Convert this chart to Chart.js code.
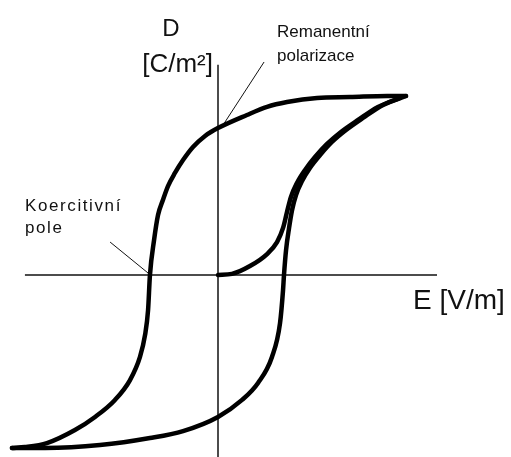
<!DOCTYPE html>
<html>
<head>
<meta charset="utf-8">
<title>Hysterezní smyčka</title>
<script src="https://cdn.jsdelivr.net/npm/chart.js@4.4.1/dist/chart.umd.min.js"></script>
<style>
  html, body { margin: 0; padding: 0; background: #fff; }
  #wrap { position: relative; width: 511px; height: 457px; }
</style>
</head>
<body>
<div id="wrap"><canvas id="loop"></canvas></div>
<script>
// E and D in units of the saturation point (tip of the loop = 1, 1)

// descending branch: saturation -> remanence -> coercive field -> negative saturation
const descE = [1.000, 0.899, 0.702, 0.527, 0.367, 0.261, 0.154, 0.000, -0.069, -0.133, -0.186, -0.229, -0.266, -0.293, -0.319, -0.340, -0.362, -0.372, -0.388, -0.415, -0.468, -0.548, -0.654, -0.761, -0.910, -1.027, -1.096]
const descD = [1.000, 1.000, 0.994, 0.989, 0.966, 0.939, 0.894, 0.821, 0.777, 0.715, 0.642, 0.570, 0.497, 0.419, 0.335, 0.196, 0.000, -0.196, -0.335, -0.458, -0.587, -0.698, -0.793, -0.866, -0.939, -0.961, -0.966]

// ascending branch: negative saturation -> back up to saturation
const ascE = [-1.096, -0.920, -0.628, -0.362, -0.186, 0.000, 0.128, 0.213, 0.287, 0.330, 0.346, 0.351, 0.362, 0.378, 0.394, 0.415, 0.447, 0.489, 0.543, 0.606, 0.681, 0.771, 0.878, 1.000]
const ascD = [-0.966, -0.966, -0.950, -0.911, -0.872, -0.793, -0.698, -0.603, -0.458, -0.268, -0.084, 0.000, 0.140, 0.263, 0.363, 0.447, 0.525, 0.598, 0.670, 0.743, 0.810, 0.877, 0.950, 1.000]

// first (virgin) curve from the origin
const initE = [0.000, 0.074, 0.170, 0.261, 0.314, 0.346, 0.367, 0.388, 0.420, 0.463, 0.516, 0.580, 0.654, 0.745, 0.851, 0.968]
const initD = [0.000, 0.006, 0.050, 0.117, 0.184, 0.263, 0.352, 0.436, 0.514, 0.587, 0.659, 0.732, 0.799, 0.866, 0.939, 0.989]

// axes
const axisE = [-1.027, 1.165]
const axisD = [-1.02, 1.175]

// pointer lines for the two annotations
const remPointerE = [0.027, 0.245]
const remPointerD = [0.838, 1.190]
const coerPointerE = [-0.574, -0.372]
const coerPointerD = [0.184, 0.011]

const toPoints = (xs, ys) => xs.map((x, i) => ({ x: x, y: ys[i] }))

const curve = (xs, ys) => ({
  data: toPoints(xs, ys),
  showLine: true,
  borderColor: '#000',
  borderWidth: 4.5,
  borderCapStyle: 'round',
  borderJoinStyle: 'round',
  cubicInterpolationMode: 'monotone',
  pointRadius: 0
})

const thin = (data, width) => ({
  data: data,
  showLine: true,
  borderColor: '#111',
  borderWidth: width,
  tension: 0,
  pointRadius: 0
})

const labels = {
  id: 'labels',
  afterDraw(chart) {
    const ctx = chart.ctx
    const face = '"Liberation Sans", Arial, sans-serif'
    ctx.save()
    ctx.fillStyle = '#111'
    ctx.textBaseline = 'alphabetic'

    ctx.textAlign = 'center'
    ctx.font = '24px ' + face
    ctx.fillText('D', 171, 36)

    ctx.textAlign = 'right'
    ctx.font = '26px ' + face
    ctx.fillText('[C/m²]', 213, 72)

    ctx.textAlign = 'left'
    ctx.font = '28px ' + face
    ctx.fillText('E [V/m]', 413, 309)

    ctx.font = '17px ' + face
    ctx.fillText('Remanentní', 277, 37)
    ctx.fillText('polarizace', 277, 61)

    ctx.letterSpacing = '1.6px'
    ctx.fillText('Koercitivní', 25, 211)
    ctx.fillText('pole', 25, 233)
    ctx.restore()
  }
}

new Chart(document.getElementById('loop'), {
  type: 'scatter',
  data: {
    datasets: [
      curve(descE, descD),
      curve(ascE, ascD),
      curve(initE, initD),
      thin(toPoints(axisE, [0, 0]), 1.5),
      thin(toPoints([0, 0], axisD), 1.5),
      thin(toPoints(remPointerE, remPointerD), 1),
      thin(toPoints(coerPointerE, coerPointerD), 1)
    ]
  },
  options: {
    responsive: true,
    maintainAspectRatio: false,
    animation: false,
    events: [],
    layout: { padding: 0 },
    scales: {
      x: { type: 'linear', display: false, min: -1.1596, max: 1.5585 },
      y: { type: 'linear', display: false, min: -1.0168, max: 1.5363 }
    },
    plugins: {
      legend: { display: false },
      tooltip: { enabled: false }
    }
  },
  plugins: [labels]
})
</script>
</body>
</html>
